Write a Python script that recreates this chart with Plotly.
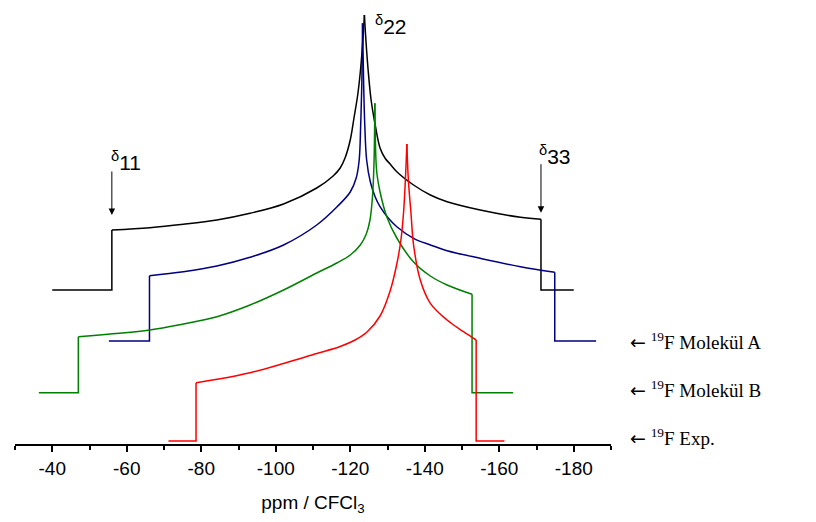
import plotly.graph_objects as go

# ---- data (ppm vs. arbitrary stacked intensity) ----
black_ppm = [-40, -56.0, -56.0, -66.2, -75.2, -84.2, -93.1, -102.1, -111.0, -115.4, -117.3, -118.6, -120.0, -121.0,
             -122.0, -122.7, -123.3, -123.8,
             -124.2, -124.8, -125.6, -126.7, -128.0, -129.4, -130.7, -132.5, -137.0, -141.5, -146.0, -154.9,
             -165.7, -171.2, -171.2, -180]
black_int = [154, 154, 214, 216.3, 219.7, 224, 230.7, 240, 256, 268, 276, 286, 304, 326,
             349, 372, 399, 429,
             404, 374, 344, 319, 296, 285.5, 280, 272.3, 259, 249, 242.3, 234,
             226.7, 224.7, 154, 154]

blue_ppm = [-55.2, -66.1, -66.1, -75.2, -84.2, -93.1, -102.1, -111.0, -116.4, -120.0, -121.6, -122.4, -122.8, -123.1,
            -123.3,
            -123.6, -123.9, -124.4, -125.4, -126.7, -128.0, -130.2, -132.5, -137.0, -141.5, -146.0, -154.9, -165.7,
            -174.9, -174.9, -186.0]
blue_int = [103, 103, 168.3, 172.3, 178, 186.7, 199, 219, 237, 252, 266, 284, 319, 359,
            420.7,
            359, 319, 284, 262, 247, 237.3, 226, 217.3, 205.7, 199, 193.3, 185.7, 177.3,
            171.7, 103, 103]

green_ppm = [-36.4, -47.0, -47.0, -66.2, -75.2, -84.2, -93.1, -102.1, -111.0, -116.4, -120.0, -122.7, -124.3, -125.3,
             -126.0, -126.4, -126.6,
             -126.9, -127.2, -128.0, -129.8, -132.5, -137.0, -141.5, -146.0, -152.7, -152.7, -163.7]
green_int = [51.3, 51.3, 107.3, 114, 120, 127.3, 139, 154, 171, 181, 189, 199, 210, 224,
             249, 284, 340.7,
             284, 269, 252, 227.3, 206, 182, 168, 159, 149.7, 51.3, 51.3]

red_ppm = [-71.2, -78.6, -78.6, -84.2, -93.1, -102.1, -111.0, -117.3, -121.3, -124.5, -128.0, -130.7, -132.5, -133.6,
           -134.3, -134.8, -135.2,
           -135.6, -136.3, -137.0, -138.8, -141.5, -146.0, -150.4, -153.8, -153.8, -161.4]
red_int = [3, 3, 61.3, 64.7, 71.3, 80.5, 90.5, 97.5, 104, 112, 128, 153, 180, 204,
           231, 264, 300,
           264, 231, 199, 164, 140.7, 124, 112.3, 104, 3, 3]

series_names = ["Molekül (schwarz)", "19F Molekül A", "19F Molekül B", "19F Exp."]
series_colors = ["#000000", "#000080", "#008000", "#FF0000"]

delta11, delta22, delta33 = -56.0, -123.8, -171.2
delta_label_x = [-59.7, -131.0, -174.9]
delta_label_y = [283, 419, 289]
delta_arrow_tip_y = [229, 231.3]

tick_vals = [-40, -60, -80, -100, -120, -140, -160, -180]
tick_text = ["-40", "-60", "-80", "-100", "-120", "-140", "-160", "-180"]

right_labels = ["19F Molekül A", "19F Molekül B", "19F Exp."]
right_label_y = [103, 55, 7]

# ---- figure ----
fig = go.Figure()
for xs, ys, name, col in zip([black_ppm, blue_ppm, green_ppm, red_ppm],
                             [black_int, blue_int, green_int, red_int],
                             series_names, series_colors):
    ln = dict(color=col, width=1.5)
    ipk = ys.index(max(ys))
    n = len(xs)
    parts = [
        (xs[:3], ys[:3], "linear"),                       # baseline + left step
        (xs[2:ipk + 1], ys[2:ipk + 1], "spline"),         # rising branch
        (xs[ipk:n - 2], ys[ipk:n - 2], "spline"),         # falling branch
        (xs[n - 3:], ys[n - 3:], "linear"),               # right step + baseline
    ]
    for px, py, shp in parts:
        fig.add_trace(go.Scatter(x=px, y=py, mode="lines",
                                 line=dict(color=col, width=1.5, shape=shp,
                                           **({"smoothing": 1.0} if shp == "spline" else {})),
                                 showlegend=False, cliponaxis=False, name=name))

fig.update_xaxes(range=[-30, -190], showline=True, linecolor="black", linewidth=1.5,
                 ticks="outside", ticklen=6, tickwidth=1.5, tickcolor="black",
                 tickvals=tick_vals, ticktext=tick_text,
                 tickfont=dict(family="Arial, Liberation Sans", size=19, color="black"),
                 minor=dict(ticks="outside", ticklen=4, tickwidth=1.5, tickcolor="black",
                            dtick=10, tick0=-30, showgrid=False),
                 showgrid=False, zeroline=False,
                 title=dict(text="ppm / CFCl<sub>3</sub>",
                            font=dict(family="Arial, Liberation Sans", size=19, color="black"),
                            standoff=18))
fig.update_yaxes(range=[0, 436], visible=False)

# delta labels
for txt, xv, yv in zip(["<sup>δ</sup>11", "<sup>δ</sup>22", "<sup>δ</sup>33"],
                       delta_label_x, delta_label_y):
    fig.add_annotation(x=xv, y=yv, text=txt, showarrow=False,
                       font=dict(family="Arial, Liberation Sans", size=21, color="black"))

# arrows
for xv, yv, ay in zip([delta11, delta33], delta_arrow_tip_y, [-45, -50]):
    fig.add_annotation(x=xv, y=yv, text="", showarrow=True, ax=0, ay=ay,
                       arrowhead=2, arrowsize=1.3, arrowwidth=1, arrowcolor="black", standoff=0)

# right labels
for txt, yv in zip(right_labels, right_label_y):
    fig.add_annotation(xref="paper", x=1.0277, y=yv, xanchor="left",
                       text="<span style='font-family:DejaVu Sans'>←</span>\u00a0<sup>" + txt[:2] + "</sup>" + txt[2:],
                       showarrow=False,
                       font=dict(family="Liberation Serif, Times New Roman", size=19, color="black"))

fig.update_layout(width=816, height=522, margin=dict(l=7, r=213, t=0, b=86),
                  plot_bgcolor="white", paper_bgcolor="white")

fig.write_html("out.html")
